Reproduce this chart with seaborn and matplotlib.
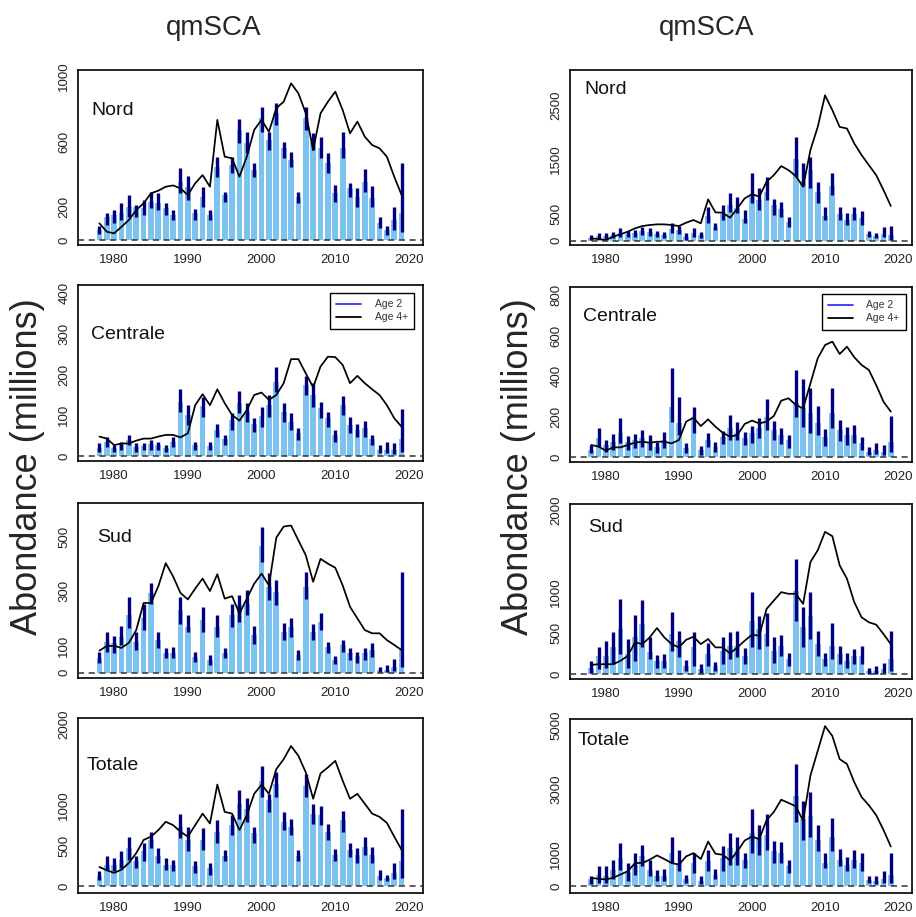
import numpy as np
import matplotlib
matplotlib.use("Agg")
import matplotlib.pyplot as plt
from matplotlib.lines import Line2D
import seaborn as sns

sns.set_style("white")
plt.rcParams["font.family"] = ["Liberation Sans", "DejaVu Sans"]

years = np.arange(1978, 2020)

# ---- left column (qmSCA) ----
nord_a_est = [60, 140, 150, 163, 203, 203, 193, 234, 224, 193, 152, 356, 325, 163, 264, 152, 447, 274, 457, 671, 589,
              427, 742, 610, 772, 559, 488, 264, 742, 600, 559, 467, 285, 559, 315, 264, 356, 254, 102, 61, 122, 163]
nord_a_hi = [85, 163, 183, 224, 274, 213, 244, 295, 285, 228, 183, 437, 390, 187, 325, 183, 508, 295, 508, 736, 660,
             467, 813, 660, 837, 600, 539, 295, 813, 650, 626, 533, 335, 660, 346, 319, 431, 329, 142, 85, 203, 467]
nord_a_lo = [35, 91, 102, 122, 142, 142, 152, 193, 183, 152, 122, 285, 244, 122, 203, 122, 386, 234, 407, 589, 528,
             386, 660, 549, 701, 498, 447, 224, 671, 549, 498, 407, 234, 498, 264, 203, 295, 203, 71, 30, 61, 51]
nord_a_age4 = [102, 51, 41, 81, 122, 183, 224, 285, 301, 325, 333, 315, 274, 346, 396, 325, 732, 508, 498, 386, 508,
               671, 732, 660, 803, 843, 955, 894, 772, 549, 772, 843, 904, 793, 650, 722, 630, 579, 559, 508, 386, 274]

centrale_a_est = [19, 35, 19, 27, 39, 23, 25, 30, 27, 19, 35, 134, 101, 27, 123, 25, 64, 43, 89, 130, 109,
                  80, 98, 125, 183, 109, 84, 56, 175, 150, 117, 93, 52, 125, 76, 64, 68, 43, 15, 15, 15, 41]
centrale_a_hi = [31, 46, 27, 35, 52, 31, 33, 39, 35, 27, 46, 164, 125, 35, 146, 35, 80, 52, 105, 161, 130,
                 93, 121, 150, 218, 130, 105, 68, 197, 179, 134, 109, 64, 148, 95, 80, 86, 53, 27, 35, 33, 115]
centrale_a_lo = [11, 23, 11, 15, 27, 11, 15, 15, 15, 11, 23, 109, 76, 15, 97, 15, 48, 27, 64, 105, 84,
                 60, 72, 97, 158, 84, 64, 39, 150, 121, 93, 72, 35, 101, 56, 48, 48, 27, 7, 7, 5, 11]
centrale_a_age4 = [48, 43, 27, 31, 31, 38, 43, 43, 48, 52, 52, 46, 56, 125, 152, 125, 164, 130, 101, 87, 113,
                   150, 156, 138, 150, 179, 238, 238, 203, 169, 220, 244, 243, 224, 179, 197, 179, 164, 150, 125, 93, 72]

sud_a_est = [53, 114, 108, 132, 212, 114, 200, 292, 120, 71, 71, 230, 169, 59, 194, 47, 169, 71, 212, 249, 255,
             138, 469, 316, 298, 151, 169, 65, 316, 151, 188, 96, 47, 102, 71, 61, 71, 83, 10, 10, 22, 90]
sud_a_hi = [77, 151, 135, 172, 279, 151, 255, 331, 151, 89, 96, 279, 212, 77, 243, 65, 212, 89, 255, 286, 304,
            172, 539, 368, 343, 184, 200, 83, 371, 181, 221, 114, 61, 120, 89, 77, 89, 108, 20, 28, 49, 371]
sud_a_lo = [34, 77, 71, 102, 163, 83, 157, 255, 89, 53, 53, 181, 151, 40, 151, 28, 132, 53, 169, 188, 212,
            105, 408, 267, 249, 120, 132, 47, 273, 120, 157, 71, 32, 77, 47, 37, 47, 59, 2, 2, 5, 22]
sud_a_age4 = [81, 98, 99, 91, 110, 157, 257, 257, 319, 404, 355, 294, 270, 310, 347, 301, 363, 273, 282, 218, 273,
              328, 365, 322, 498, 539, 543, 488, 433, 335, 420, 402, 387, 322, 243, 200, 157, 145, 145, 120, 102, 83]

totale_a_est = [122, 264, 264, 325, 467, 305, 427, 569, 366, 264, 264, 732, 569, 244, 569, 224, 671, 366, 752, 1016, 955,
                650, 1301, 1057, 1260, 793, 732, 366, 1240, 894, 874, 671, 386, 813, 447, 386, 488, 386, 122, 102, 163, 305]
totale_a_hi = [183, 366, 346, 427, 610, 374, 528, 671, 467, 346, 325, 886, 732, 305, 711, 285, 813, 447, 874, 1187, 1089,
               732, 1476, 1130, 1402, 915, 833, 447, 1382, 1008, 984, 764, 459, 927, 528, 467, 610, 488, 195, 142, 285, 955]
totale_a_lo = [81, 203, 183, 224, 325, 224, 305, 467, 285, 203, 183, 589, 427, 163, 447, 142, 528, 305, 630, 833, 793,
               528, 1098, 915, 1098, 691, 630, 305, 1098, 772, 752, 569, 305, 671, 358, 285, 386, 285, 81, 61, 89, 102]
totale_a_age4 = [236, 195, 163, 203, 285, 407, 569, 610, 691, 793, 752, 671, 610, 752, 894, 772, 1252, 915, 894, 691, 874,
                 1138, 1252, 1138, 1443, 1565, 1728, 1606, 1402, 1077, 1390, 1463, 1545, 1301, 1077, 1138, 1016, 894, 854, 780, 610, 447]

# ---- right column (qmSCA) ----
nord_b_est = [50, 80, 90, 100, 150, 120, 140, 180, 160, 120, 110, 220, 200, 60, 150, 100, 450, 250, 500, 650, 600,
              400, 850, 750, 900, 650, 580, 350, 1500, 1100, 1300, 900, 450, 1000, 500, 380, 500, 420, 120, 80, 120, 110]
nord_b_hi = [100, 135, 150, 165, 230, 170, 200, 260, 230, 185, 165, 320, 275, 135, 230, 165, 625, 320, 660, 885, 810,
             565, 1240, 965, 1180, 760, 720, 440, 1915, 1425, 1550, 1090, 625, 1240, 625, 505, 625, 555, 185, 150, 260, 270]
nord_b_lo = [15, 30, 35, 40, 75, 60, 75, 110, 95, 60, 55, 150, 130, 20, 75, 40, 320, 195, 380, 535, 505,
             320, 690, 565, 750, 475, 440, 260, 1180, 1000, 965, 690, 380, 840, 380, 290, 380, 290, 75, 40, 75, 12]
nord_b_age4 = [43, 30, 12, 74, 117, 166, 227, 270, 289, 301, 301, 289, 270, 332, 381, 320, 762, 522, 516, 424, 596,
               780, 860, 811, 1087, 1210, 1376, 1302, 1192, 995, 1671, 2100, 2684, 2408, 2100, 2070, 1794, 1580, 1394, 1210, 934, 639]

centrale_b_est = [36, 94, 61, 77, 118, 77, 85, 94, 77, 53, 85, 250, 167, 44, 200, 36, 85, 53, 102, 143, 118,
                  94, 118, 143, 200, 135, 110, 85, 266, 241, 217, 167, 102, 217, 135, 110, 110, 69, 28, 36, 28, 77]
centrale_b_hi = [61, 143, 85, 115, 192, 105, 115, 135, 110, 77, 126, 438, 299, 69, 250, 56, 118, 77, 131, 208, 176,
                 126, 154, 192, 286, 181, 146, 110, 430, 384, 340, 253, 138, 340, 184, 151, 159, 102, 53, 72, 61, 204]
centrale_b_lo = [20, 53, 28, 36, 69, 36, 44, 53, 36, 23, 44, 176, 110, 20, 118, 11, 53, 28, 66, 85, 85,
                 61, 69, 94, 135, 85, 66, 44, 200, 151, 118, 110, 56, 143, 82, 61, 72, 36, 11, 16, 11, 28]
centrale_b_age4 = [61, 53, 33, 49, 49, 61, 72, 77, 72, 77, 77, 69, 85, 176, 195, 154, 187, 151, 121, 102, 110,
                   164, 181, 167, 176, 204, 279, 291, 258, 241, 364, 488, 553, 570, 509, 545, 493, 455, 430, 356, 274, 225]

sud_b_est = [82, 224, 224, 327, 551, 245, 449, 612, 265, 163, 163, 490, 408, 102, 327, 61, 245, 102, 286, 347, 347,
             224, 653, 551, 490, 286, 347, 184, 1020, 571, 714, 367, 184, 347, 245, 163, 224, 224, 41, 41, 61, 184]
sud_b_hi = [163, 335, 400, 510, 918, 429, 727, 906, 449, 237, 245, 755, 522, 171, 510, 122, 376, 155, 457, 510, 531,
            318, 1000, 714, 743, 449, 482, 253, 1408, 824, 1000, 531, 253, 620, 347, 253, 306, 347, 82, 102, 143, 531]
sud_b_lo = [20, 61, 82, 122, 245, 82, 163, 327, 184, 82, 82, 286, 204, 41, 102, 20, 102, 41, 122, 184, 204,
            122, 327, 306, 347, 143, 224, 102, 653, 327, 429, 224, 102, 184, 122, 82, 122, 122, 8, 8, 20, 41]
sud_b_age4 = [114, 122, 122, 122, 163, 224, 388, 367, 449, 563, 449, 367, 327, 420, 457, 367, 429, 327, 327, 253, 327,
              408, 482, 469, 796, 898, 1000, 980, 980, 857, 1367, 1510, 1735, 1682, 1327, 1163, 878, 694, 633, 604, 490, 367]

totale_b_est = [205, 359, 307, 512, 871, 410, 666, 922, 512, 307, 307, 1025, 717, 205, 717, 154, 768, 359, 871, 1178, 1076,
                820, 1640, 1537, 1588, 1076, 1025, 615, 2787, 2070, 2172, 1434, 717, 1516, 820, 666, 799, 717, 184, 154, 205, 359]
totale_b_hi = [307, 615, 635, 820, 1332, 717, 1025, 1281, 820, 512, 533, 1537, 1107, 359, 1025, 307, 1107, 533, 1250, 1640, 1537,
               1025, 2408, 1895, 2234, 1414, 1383, 820, 3791, 2643, 2920, 1895, 1025, 2100, 1148, 902, 1107, 1025, 307, 328, 461, 1025]
totale_b_lo = [51, 102, 102, 205, 512, 154, 359, 615, 307, 154, 154, 717, 461, 102, 410, 51, 461, 205, 461, 666, 666,
               563, 1025, 973, 1127, 717, 717, 410, 1998, 1434, 1537, 1076, 563, 1076, 615, 461, 563, 461, 82, 51, 82, 102]
totale_b_age4 = [256, 225, 205, 256, 359, 461, 717, 717, 820, 953, 840, 717, 666, 922, 1025, 840, 1383, 1004, 973, 799, 1076,
                 1414, 1537, 1455, 2049, 2305, 2684, 2582, 2480, 2029, 3432, 4201, 4969, 4662, 3945, 3791, 3227, 2766, 2510, 2203, 1742, 1230]

regions = ["Nord", "Centrale", "Sud", "Totale"]
column_title = "qmSCA"
y_title = "Abondance (millions)"
legend_labels = ["Age 2", "Age 4+"]
x_ticks = [1980, 1990, 2000, 2010, 2020]

# y ticks and the labels printed on them (blank = tick without label)
yticks_a = [[0, 200, 400, 600, 800, 1000], [0, 100, 200, 300, 400],
            [0, 100, 200, 300, 400, 500, 600], [0, 500, 1000, 1500, 2000]]
ylabels_a = [["0", "200", "", "600", "", "1000"], ["0", "100", "200", "300", "400"],
             ["0", "100", "", "300", "", "500", ""], ["0", "500", "1000", "", "2000"]]
yticks_b = [[0, 500, 1000, 1500, 2000, 2500, 3000], [0, 200, 400, 600, 800],
            [0, 500, 1000, 1500, 2000], [0, 1000, 2000, 3000, 4000, 5000]]
ylabels_b = [["0", "500", "", "1500", "", "2500", ""], ["0", "200", "400", "600", "800"],
             ["0", "500", "1000", "", "2000"], ["0", "1000", "", "3000", "", "5000"]]

panels_a = [(nord_a_est, nord_a_lo, nord_a_hi, nord_a_age4),
            (centrale_a_est, centrale_a_lo, centrale_a_hi, centrale_a_age4),
            (sud_a_est, sud_a_lo, sud_a_hi, sud_a_age4),
            (totale_a_est, totale_a_lo, totale_a_hi, totale_a_age4)]
panels_b = [(nord_b_est, nord_b_lo, nord_b_hi, nord_b_age4),
            (centrale_b_est, centrale_b_lo, centrale_b_hi, centrale_b_age4),
            (sud_b_est, sud_b_lo, sud_b_hi, sud_b_age4),
            (totale_b_est, totale_b_lo, totale_b_hi, totale_b_age4)]

ylim_a = [(-30, 1036), (-12, 420), (-20, 626), (-85, 2073)]
ylim_b = [(-80, 3150), (-23, 839), (-58, 2074), (-215, 5190)]

BAR = "#7DC3EF"
NAVY = "#000080"
W, H = 916, 917

fig = plt.figure(figsize=(W / 100, H / 100), dpi=100)


def rect(x0, x1, y0, y1):
    return [x0 / W, 1 - y1 / H, (x1 - x0) / W, (y1 - y0) / H]


rows_a = [(70, 245), (285, 461), (503, 678), (718, 893)]
rows_b = [(70, 245), (287, 462), (504, 679), (719, 893)]
label_pos_a = [(0.040, 0.77), (0.038, 0.716), (0.055, 0.80), (0.026, 0.729)]
label_pos_b = [(0.041, 0.886), (0.038, 0.834), (0.053, 0.863), (0.023, 0.875)]
legend_anchor = {"a": (0.974, 0.955), "b": (0.982, 0.96)}


def draw_panel(ax, data, ylim, ticks, labels, name, lpos, legend_at=None):
    est, lo, hi, age4 = data
    sns.barplot(x=years, y=est, native_scale=True, width=0.78, color=BAR,
                saturation=1, errorbar=None, linewidth=0, ax=ax, zorder=2)
    ax.vlines(years, lo, hi, color=NAVY, lw=2.4, zorder=3)
    sns.lineplot(x=years, y=age4, color="black", lw=1.25, ax=ax, zorder=4)
    ax.axhline(0, color="#333333", lw=1.1, ls=(0, (4, 3)), zorder=5)
    ax.set_xlim(1975.1, 2021.9)
    ax.set_ylim(*ylim)
    ax.set_xticks(x_ticks)
    ax.set_xticklabels([str(t) for t in x_ticks])
    ax.set_yticks(ticks)
    ax.set_yticklabels(labels, rotation=90, va="center")
    ax.set_xlabel("")
    ax.set_ylabel("")
    ax.tick_params(axis="both", direction="out", length=3.5, width=1, color="#222222",
                   labelsize=9.5, labelcolor="#222222")
    ax.tick_params(axis="x", pad=3)
    ax.tick_params(axis="y", pad=2)
    for sp in ax.spines.values():
        sp.set_visible(True)
        sp.set_color("black")
        sp.set_linewidth(1.2)
    ax.text(lpos[0], lpos[1], name, transform=ax.transAxes, ha="left",
            va="center", fontsize=14, color="#111111", zorder=6)
    if legend_at is not None:
        handles = [Line2D([], [], color="#3333ff", lw=1.3),
                   Line2D([], [], color="black", lw=1.3)]
        leg = ax.legend(handles, legend_labels, loc="upper right",
                        bbox_to_anchor=legend_at, fontsize=7.5, frameon=True,
                        fancybox=False, edgecolor="black", framealpha=1,
                        handlelength=2.4, borderpad=0.6, labelspacing=0.3,
                        handletextpad=1.3, borderaxespad=0)
        leg.get_frame().set_linewidth(1.0)
        for t in leg.get_texts():
            t.set_color("#333333")


for i in range(4):
    ax = fig.add_axes(rect(78, 423, *rows_a[i]))
    draw_panel(ax, panels_a[i], ylim_a[i], yticks_a[i], ylabels_a[i], regions[i],
               label_pos_a[i], legend_anchor["a"] if i == 1 else None)
    ax = fig.add_axes(rect(570, 912, *rows_b[i]))
    draw_panel(ax, panels_b[i], ylim_b[i], yticks_b[i], ylabels_b[i], regions[i],
               label_pos_b[i], legend_anchor["b"] if i == 1 else None)

fig.text(214 / W, 1 - 28 / H, column_title, ha="center", va="center", fontsize=20)
fig.text(707 / W, 1 - 28 / H, column_title, ha="center", va="center", fontsize=20)
fig.text(28 / W, 1 - 467 / H, y_title, rotation=90, ha="center", va="center", fontsize=26)
fig.text(519 / W, 1 - 467 / H, y_title, rotation=90, ha="center", va="center", fontsize=26)

fig.savefig("out.png", dpi=100, facecolor="white")
